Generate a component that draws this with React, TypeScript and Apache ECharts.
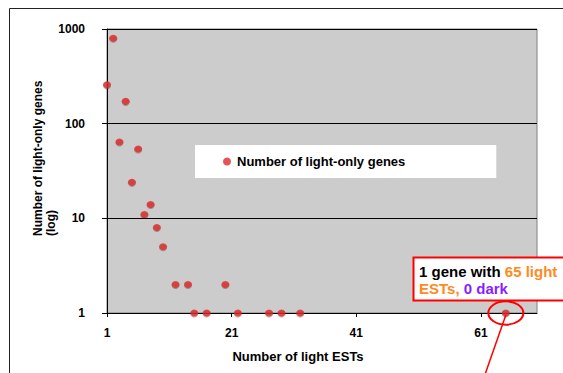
import React, { useEffect, useRef } from "react";
import * as echarts from "echarts";

const lightESTs = [1, 2, 3, 4, 5, 6, 7, 8, 9, 10, 12, 14, 15, 17, 20, 22, 27, 29, 32, 65];
const geneCounts = [257, 800, 64, 172, 24, 54, 11, 14, 8, 5, 2, 2, 1, 1, 2, 1, 1, 1, 1, 1];
const seriesName = "Number of light-only genes";
const xTitle = "Number of light ESTs";
const yTitle = "Number of light-only genes\n(log)";
const annotatedPoint = [65, 1];

const FONT = "'Liberation Sans', Arial, sans-serif";

export default function App() {
  const ref = useRef<HTMLDivElement>(null);
  useEffect(() => {
    if (!ref.current) return;
    const chart = echarts.init(ref.current, null, { renderer: "svg" });
    const data = lightESTs.map((x, i) => [x, geneCounts[i]]);
    chart.setOption({
      animation: false,
      backgroundColor: "#ffffff",
      grid: { left: 107, top: 29, right: 26, bottom: 60, show: true, backgroundColor: "#cccccc", borderColor: "#808080", borderWidth: 1 },
      legend: {
        left: 195,
        top: 145,
        backgroundColor: "#ffffff",
        padding: [10, 91, 10, 28],
        itemWidth: 10,
        itemHeight: 8,
        icon: "circle",
        textStyle: { fontFamily: FONT, fontWeight: "bold", fontSize: 13, color: "#000" },
        data: [seriesName],
      },
      xAxis: {
        type: "value",
        min: 1,
        max: 70,
        interval: 20,
        axisLine: { show: true, lineStyle: { color: "#000", width: 1 } },
        axisTick: { show: true, length: 4, lineStyle: { color: "#000" } },
        axisLabel: { showMaxLabel: false, fontFamily: FONT, fontWeight: "bold", fontSize: 12, color: "#000", margin: 14 },
        splitLine: { show: false },
      },
      yAxis: {
        type: "log",
        logBase: 10,
        min: 1,
        max: 1000,
        axisLine: { show: true, lineStyle: { color: "#000", width: 1 } },
        axisTick: { show: true, length: 5, lineStyle: { color: "#000" } },
        axisLabel: {
          fontFamily: FONT,
          fontWeight: "bold",
          fontSize: 12,
          color: "#000",
          margin: 22,
          formatter: (v: number) => String(Math.round(v)),
        },
        splitLine: { show: true, lineStyle: { color: "#000", width: 1 } },
        minorTick: { show: false },
      },
      series: [
        {
          name: seriesName,
          type: "scatter",
          data,
          symbol: "circle",
          symbolSize: [8, 7],
          itemStyle: { color: "#dc2b2b", shadowColor: "rgba(0,0,0,0.35)", shadowOffsetY: 1, shadowBlur: 0 },
        },
      ],
    });

    const p = chart.convertToPixel({ gridIndex: 0 }, annotatedPoint) as number[];
    chart.setOption({
      graphic: [
        { type: "rect", shape: { x: 9.5, y: 8.5, width: 700, height: 500 }, style: { fill: "none", stroke: "#222", lineWidth: 1 }, silent: true, z: 100 },
        {
          type: "text",
          x: 31,
          y: 236,
          rotation: Math.PI / 2,
          style: { text: yTitle, font: `bold 12px ${FONT}`, fill: "#000", textAlign: "left", textVerticalAlign: "top", lineHeight: 13 },
        },
        {
          type: "text",
          x: 298,
          y: 356,
          style: { text: xTitle, font: `bold 13px ${FONT}`, fill: "#000", textAlign: "center", textVerticalAlign: "middle" },
        },
        {
          type: "ellipse",
          shape: { cx: p[0], cy: p[1], rx: 17.5, ry: 11.7 },
          style: { fill: "none", stroke: "#ff0000", lineWidth: 2 },
          z: 50,
        },
        {
          type: "line",
          shape: { x1: p[0], y1: p[1] + 2, x2: p[0] - 21, y2: p[1] + 62 },
          style: { stroke: "#ff0000", lineWidth: 1.5 },
          z: 50,
        },
        {
          type: "rect",
          shape: { x: 413.5, y: 257.5, width: 200, height: 43 },
          style: { fill: "#ffffff", stroke: "#ff0000", lineWidth: 2 },
          z: 60,
        },
        {
          type: "text",
          x: 419,
          y: 263,
          z: 61,
          style: {
            text: "{a|1 gene with }{b|65 light}\n{b|ESTs, }{c|0 dark}",
            font: `bold 15px ${FONT}`,
            lineHeight: 17,
            rich: {
              a: { fill: "#000000", font: `bold 15px ${FONT}`, lineHeight: 17 },
              b: { fill: "#ff8a1e", font: `bold 15px ${FONT}`, lineHeight: 17 },
              c: { fill: "#8a1eff", font: `bold 15px ${FONT}`, lineHeight: 17 },
            },
          },
        },
      ],
    });
    return () => chart.dispose();
  }, []);
  return <div ref={ref} style={{ position: "fixed", left: 0, top: 0, width: 563, height: 373 }} />;
}
